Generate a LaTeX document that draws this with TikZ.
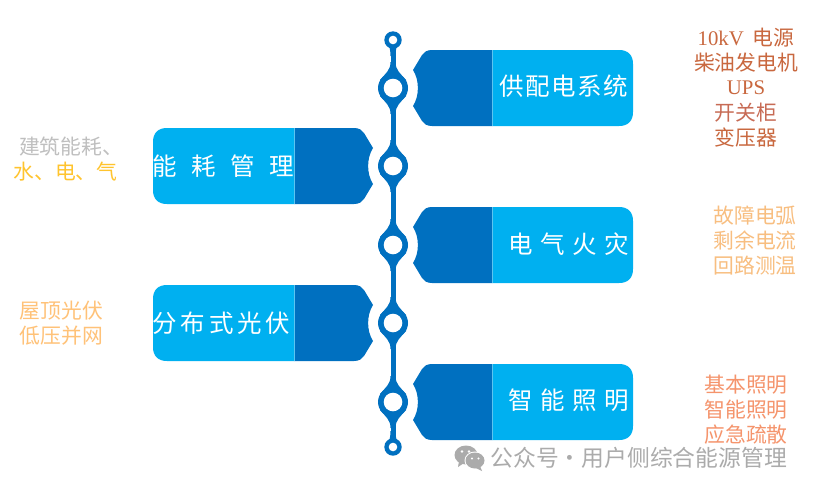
\documentclass[tikz,border=0pt]{standalone}
\usepackage{fontspec}
\setmainfont{Noto Sans CJK SC}
\newfontfamily\latinser{Liberation Serif}
\definecolor{deepb}{HTML}{0070C0}
\definecolor{lightb}{HTML}{00B0F0}
\definecolor{splitb}{HTML}{5CC4F0}
\definecolor{brown1}{HTML}{C9683F}
\definecolor{brown2}{HTML}{C76B55}
\definecolor{fireo}{HTML}{F8BE80}
\definecolor{lighto}{HTML}{F5946C}
\definecolor{roofo}{HTML}{FFC278}
\definecolor{greyt}{HTML}{BFBFBF}
\definecolor{goldt}{HTML}{FFC42E}
\definecolor{wm}{HTML}{ABABAB}
\tikzset{
  tagtext/.style={text=white,font=\fontsize{24.5}{24.5}\selectfont,inner sep=0pt,anchor=east},
  sidetext/.style={font=\fontsize{20.8}{20.8}\selectfont,inner sep=0pt,anchor=center},
  hole/.style={fill=white,draw=none},
  spine/.style={fill=deepb,draw=none}
}
\newcommand{\tagshape}[1]{%
  \fill[lightb] (492,#1-38) -- (619,#1-38) .. controls (628,#1-38) and (633,#1-33) .. (633,#1-24)
    -- (633,#1+24) .. controls (633,#1+33) and (628,#1+38) .. (619,#1+38) -- (492,#1+38) -- cycle;
  \fill[deepb] (492,#1-38) -- (432,#1-38) .. controls (427,#1-38) and (424,#1-36) .. (422,#1-33)
    -- (413,#1-18) .. controls (419.5,#1-8) and (419.5,#1+8) .. (413,#1+18)
    -- (422,#1+33) .. controls (424,#1+36) and (427,#1+38) .. (432,#1+38) -- (492,#1+38) -- cycle;
  \draw[splitb,line width=.8pt] (492,#1-38) -- (492,#1+38);
}
\newcommand{\bigknot}[1]{%
  \fill[spine] (390.5,#1-26) .. controls (390.5,#1-18) and (386,#1-15) .. (380,#1-8)
    -- (380,#1+8) .. controls (386,#1+15) and (390.5,#1+18) .. (390.5,#1+26)
    -- (395.5,#1+26) .. controls (395.5,#1+18) and (400,#1+15) .. (406,#1+8)
    -- (406,#1-8) .. controls (400,#1-15) and (395.5,#1-18) .. (395.5,#1-26) -- cycle;
  \fill[spine] (393,#1) circle[radius=15];
  \fill[hole] (393,#1) circle[radius=9.3];
}
\begin{document}
\begin{tikzpicture}[x=1pt,y=-1pt]
\useasboundingbox (0,0) rectangle (813,490);
\fill[white] (0,0) rectangle (813,490);
% spine
\fill[spine] (390.5,40) rectangle (395.5,447);
\fill[spine] (389.5,47) .. controls (390,50) and (390.5,52) .. (390.5,56) -- (395.5,56) .. controls (395.5,52) and (396,50) .. (396.5,47) -- cycle;
\fill[spine] (389.5,440) .. controls (390,437) and (390.5,435) .. (390.5,431) -- (395.5,431) .. controls (395.5,435) and (396,437) .. (396.5,440) -- cycle;
\fill[spine] (393,40) circle[radius=8.7];
\fill[hole] (393,40) circle[radius=4.3];
\fill[spine] (393,447) circle[radius=8.7];
\fill[hole] (393,447) circle[radius=4.3];
\bigknot{88}\bigknot{166}\bigknot{245}\bigknot{323}\bigknot{402}
% tags
\tagshape{88}\tagshape{245}\tagshape{402}
\begin{scope}[xscale=-1,xshift=-786pt]
\tagshape{166}\tagshape{323}
\end{scope}
% tag labels
\node[tagtext] (t1) at (628.5,86) {供\hspace{1.5pt}配\hspace{1.5pt}电\hspace{1.5pt}系\hspace{1.5pt}统};
\node[tagtext] (t2) at (629.5,244) {电\hspace{7.5pt}气\hspace{7.5pt}火\hspace{7.5pt}灾};
\node[tagtext] (t3) at (629.5,400) {智\hspace{7.5pt}能\hspace{7.5pt}照\hspace{7.5pt}明};
\node[tagtext] (t4) at (294.5,166) {能\hspace{14.5pt}耗\hspace{14.5pt}管\hspace{14.5pt}理};
\node[tagtext] (t5) at (290,323) {分\hspace{3.6pt}布\hspace{3.6pt}式\hspace{3.6pt}光\hspace{3.6pt}伏};
% right-hand lists
\node[sidetext,text=brown1] (a1) at (746,37.5) {{\latinser 10kV}\hspace{9pt}电源};
\node[sidetext,text=brown1] (a2) at (746,62.5) {柴油发电机};
\node[sidetext,text=brown1] (a3) at (746,88) {\latinser UPS};
\node[sidetext,text=brown2] (a4) at (746,112.5) {开关柜};
\node[sidetext,text=brown1] (a5) at (746,138) {变压器};
\node[sidetext,text=fireo] (b1) at (755,215.5) {故障电弧};
\node[sidetext,text=fireo] (b2) at (755,240.5) {剩余电流};
\node[sidetext,text=fireo] (b3) at (755,265.5) {回路测温};
\node[sidetext,text=lighto] (c1) at (746,384.5) {基本照明};
\node[sidetext,text=lighto] (c2) at (746,409.5) {智能照明};
\node[sidetext,text=lighto] (c3) at (746,434.5) {应急疏散};
% left-hand lists
\node[sidetext,text=greyt] (d1) at (71,146.5) {建筑能耗、};
\node[sidetext,text=goldt] (d2) at (65.5,171.5) {水、电、气};
\node[sidetext,text=roofo] (e1) at (61.5,310.5) {屋顶光伏};
\node[sidetext,text=roofo] (e2) at (61.5,335.5) {低压并网};
% watermark
\fill[wm] (466,455) ellipse[x radius=11.5,y radius=9.5];
\fill[wm] (459,461) -- (458,467) -- (464,463) -- cycle;
\fill[white] (475,460.5) ellipse[x radius=10.5,y radius=9];
\fill[wm] (475,460.5) ellipse[x radius=9.5,y radius=8];
\fill[wm] (480,466) -- (482,471) -- (476,468) -- cycle;
\fill[white] (462,451.5) circle[radius=1.4] (469,451.5) circle[radius=1.4];
\fill[white] (472,458.5) circle[radius=1.2] (478.5,458.5) circle[radius=1.2];
\node[text=wm,font=\fontsize{22.8}{22.8}\selectfont,inner sep=0pt,anchor=east] (w) at (787,457.5) {公众号·用户侧综合能源管理};
\end{tikzpicture}
\end{document}
